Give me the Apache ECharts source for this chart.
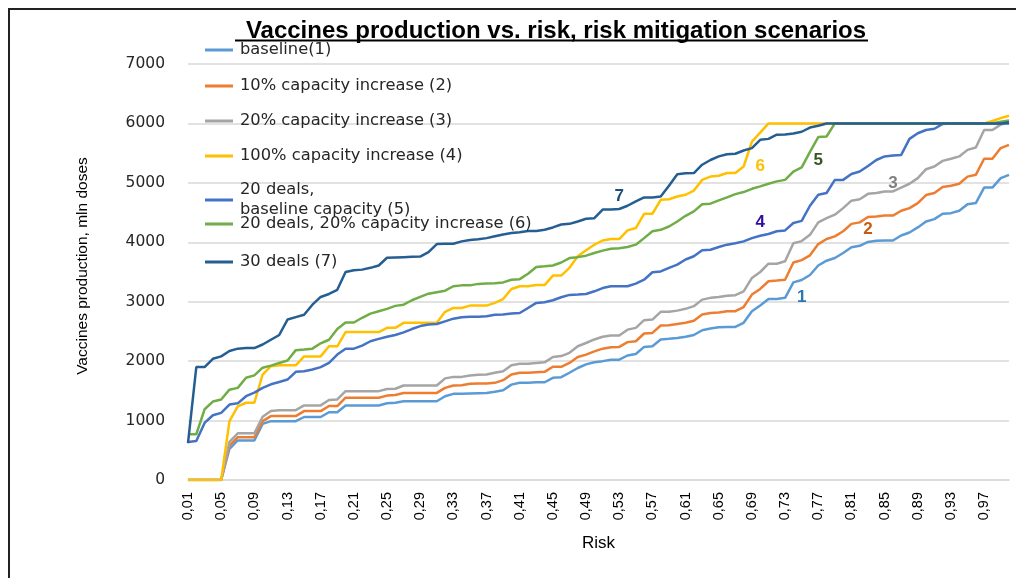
<!DOCTYPE html>
<html>
<head>
<meta charset="utf-8">
<script src="https://cdn.jsdelivr.net/npm/echarts@6/dist/echarts.min.js"></script>
<style>
html, body { margin: 0; padding: 0; background: #fff; }
#chart { width: 1016px; height: 578px; }
</style>
</head>
<body>
<div id="chart"></div>
<script>
// risk 0,01 .. 1,00
var categories = [];
for (var k = 1; k <= 100; k++) {
    categories.push((k / 100).toFixed(2).replace('.', ','));
}

var seriesNames = [
    'baseline(1)',
    '10% capacity increase (2)',
    '20% capacity increase (3)',
    '100% capacity increase (4)',
    '20 deals, baseline capacity (5)',
    '20 deals, 20% capacity increase (6)',
    '30 deals (7)'
];
var seriesColors = ['#5B9BD5', '#ED7D31', '#A5A5A5', '#FFC000', '#4472C4', '#70AD47', '#255E91'];

var baseline = [0, 0, 0, 0, 0, 525, 665, 665, 665, 945,
    990, 990, 990, 990, 1060, 1060, 1060, 1140, 1140, 1255,
    1255, 1255, 1255, 1255, 1290, 1300, 1325, 1325, 1325, 1325,
    1325, 1410, 1450, 1450, 1455, 1460, 1465, 1485, 1510, 1605,
    1635, 1635, 1645, 1645, 1720, 1730, 1805, 1885, 1945, 1980,
    2000, 2025, 2025, 2095, 2120, 2240, 2250, 2365, 2375, 2390,
    2410, 2440, 2520, 2550, 2570, 2575, 2575, 2645, 2840, 2935,
    3045, 3045, 3065, 3325, 3365, 3450, 3610, 3690, 3735, 3820,
    3915, 3940, 4005, 4025, 4030, 4030, 4115, 4165, 4250, 4350,
    4390, 4480, 4490, 4530, 4640, 4660, 4920, 4920, 5080, 5135];

var cap10 = [0, 0, 0, 0, 0, 580, 720, 720, 720, 990,
    1075, 1075, 1075, 1075, 1160, 1160, 1160, 1245, 1245, 1385,
    1385, 1385, 1385, 1385, 1420, 1430, 1465, 1465, 1465, 1465,
    1465, 1550, 1590, 1595, 1620, 1625, 1625, 1635, 1680, 1775,
    1805, 1805, 1815, 1820, 1905, 1905, 1970, 2070, 2110, 2165,
    2210, 2235, 2240, 2320, 2335, 2465, 2475, 2600, 2605, 2625,
    2645, 2680, 2785, 2810, 2820, 2840, 2840, 2910, 3120, 3215,
    3345, 3355, 3370, 3660, 3700, 3780, 3970, 4055, 4100, 4185,
    4310, 4335, 4425, 4435, 4450, 4450, 4530, 4575, 4660, 4795,
    4830, 4930, 4950, 4985, 5105, 5135, 5405, 5405, 5585, 5640];

var cap20 = [0, 0, 0, 0, 0, 640, 785, 785, 785, 1065,
    1160, 1175, 1175, 1175, 1255, 1255, 1255, 1345, 1355, 1495,
    1495, 1495, 1495, 1495, 1530, 1535, 1590, 1590, 1590, 1590,
    1590, 1710, 1735, 1735, 1760, 1770, 1775, 1805, 1830, 1930,
    1955, 1955, 1970, 1980, 2070, 2085, 2140, 2250, 2305, 2365,
    2410, 2430, 2430, 2530, 2560, 2690, 2700, 2830, 2830, 2850,
    2880, 2925, 3035, 3065, 3080, 3100, 3110, 3175, 3400, 3500,
    3640, 3640, 3680, 3985, 4020, 4125, 4335, 4405, 4465, 4575,
    4700, 4725, 4815, 4830, 4855, 4855, 4920, 4985, 5080, 5230,
    5275, 5370, 5405, 5445, 5555, 5595, 5890, 5890, 5980, 6010];

var cap100 = [0, 0, 0, 0, 0, 990, 1240, 1300, 1300, 1775,
    1915, 1930, 1930, 1930, 2080, 2080, 2080, 2250, 2250, 2490,
    2490, 2490, 2490, 2490, 2560, 2560, 2645, 2645, 2645, 2645,
    2645, 2830, 2895, 2895, 2935, 2935, 2935, 2980, 3045, 3215,
    3260, 3260, 3280, 3280, 3440, 3440, 3570, 3765, 3865, 3960,
    4030, 4055, 4055, 4200, 4240, 4480, 4480, 4715, 4725, 4770,
    4800, 4870, 5050, 5105, 5120, 5165, 5165, 5275, 5695, 5845,
    6000, 6000, 6000, 6000, 6000, 6000, 6000, 6000, 6000, 6000,
    6000, 6000, 6000, 6000, 6000, 6000, 6000, 6000, 6000, 6000,
    6000, 6000, 6000, 6000, 6000, 6000, 6000, 6040, 6090, 6130];

var deals20 = [640, 655, 960, 1090, 1130, 1270, 1290, 1410, 1470, 1550,
    1610, 1650, 1690, 1820, 1830, 1860, 1900, 1970, 2110, 2210,
    2210, 2260, 2335, 2375, 2410, 2440, 2485, 2540, 2590, 2615,
    2625, 2670, 2715, 2740, 2745, 2745, 2755, 2780, 2785, 2800,
    2810, 2895, 2980, 2990, 3025, 3075, 3115, 3120, 3130, 3175,
    3230, 3260, 3260, 3260, 3305, 3370, 3495, 3510, 3570, 3625,
    3710, 3765, 3865, 3875, 3920, 3960, 3985, 4015, 4070, 4110,
    4140, 4185, 4200, 4325, 4360, 4615, 4800, 4830, 5050, 5050,
    5150, 5190, 5285, 5385, 5445, 5460, 5470, 5740, 5835, 5890,
    5910, 5990, 6000, 6000, 6000, 6000, 6000, 6000, 6000, 6000];

var deals20cap20 = [770, 770, 1190, 1320, 1355, 1520, 1550, 1720, 1760, 1890,
    1925, 1970, 2010, 2185, 2195, 2210, 2300, 2360, 2540, 2650,
    2650, 2730, 2800, 2840, 2880, 2930, 2950, 3025, 3080, 3135,
    3160, 3185, 3260, 3275, 3275, 3300, 3305, 3310, 3325, 3370,
    3380, 3470, 3585, 3595, 3610, 3660, 3735, 3750, 3775, 3820,
    3860, 3890, 3900, 3920, 3960, 4070, 4185, 4210, 4265, 4350,
    4445, 4520, 4640, 4650, 4705, 4755, 4810, 4845, 4900, 4940,
    4985, 5025, 5050, 5190, 5260, 5520, 5770, 5780, 6000, 6000,
    6000, 6000, 6000, 6000, 6000, 6000, 6000, 6000, 6000, 6000,
    6000, 6000, 6000, 6000, 6000, 6000, 6000, 6000, 6030, 6050];

var deals30 = [620, 1900, 1900, 2040, 2080, 2170, 2210, 2220, 2220, 2280,
    2360, 2440, 2700, 2740, 2780, 2950, 3080, 3130, 3200, 3500,
    3530, 3540, 3570, 3610, 3740, 3745, 3750, 3755, 3760, 3835,
    3970, 3975, 3975, 4015, 4040, 4050, 4070, 4100, 4130, 4155,
    4170, 4190, 4190, 4210, 4250, 4300, 4310, 4350, 4395, 4405,
    4550, 4550, 4560, 4615, 4690, 4755, 4755, 4770, 4950, 5145,
    5160, 5165, 5305, 5385, 5445, 5480, 5490, 5545, 5585, 5725,
    5740, 5810, 5815, 5830, 5860, 5930, 5960, 6000, 6000, 6000,
    6000, 6000, 6000, 6000, 6000, 6000, 6000, 6000, 6000, 6000,
    6000, 6000, 6000, 6000, 6000, 6000, 6000, 6000, 6000, 6020];

var allValues = [baseline, cap10, cap20, cap100, deals20, deals20cap20, deals30];

// number labels written on the chart: [text, category index, value, colour]
var annotations = [
    ['1', 74, 3080, '#2E75B6'],
    ['2', 82, 4225, '#C55A11'],
    ['3', 85, 5000, '#808080'],
    ['4', 69, 4330, '#3010A0'],
    ['5', 76, 5385, '#375623'],
    ['6', 69, 5285, '#FFC000'],
    ['7', 52, 4780, '#1F4E79']
];

var legendCenters = [50, 86, 121, 156, 200, 224, 262];

var myChart = echarts.init(document.getElementById('chart'));

var legends = seriesNames.map(function (name, i) {
    var twoLines = name.indexOf('baseline capacity') >= 0;
    return {
        data: [name],
        orient: 'vertical',
        left: 205,
        top: legendCenters[i] - (twoLines ? 20 : 10),
        padding: 0,
        icon: 'rect',
        itemWidth: 28,
        itemHeight: 3,
        selectedMode: false,
        formatter: function (n) {
            return n.replace('20 deals, baseline', '20 deals,\nbaseline');
        },
        textStyle: {
            fontFamily: 'DejaVu Sans',
            fontSize: 16.3,
            lineHeight: 20,
            color: '#262626',
            padding: [0, 0, 0, 2]
        }
    };
});

var series = seriesNames.map(function (name, i) {
    return {
        name: name,
        type: 'line',
        data: allValues[i],
        showSymbol: false,
        symbol: 'none',
        animation: false,
        lineStyle: { width: 2.5, color: seriesColors[i] },
        itemStyle: { color: seriesColors[i] }
    };
});

series[6].markPoint = {
    symbol: 'circle',
    symbolSize: 1,
    itemStyle: { color: 'rgba(0,0,0,0)' },
    label: {
        show: true,
        position: 'inside',
        fontFamily: 'Liberation Sans',
        fontWeight: 'bold',
        fontSize: 17
    },
    data: annotations.map(function (a) {
        return {
            coord: [categories[a[1]], a[2]],
            value: a[0],
            label: { color: a[3], formatter: a[0] }
        };
    })
};

myChart.setOption({
    animation: false,
    title: {
        text: 'Vaccines production vs. risk, risk mitigation scenarios',
        left: 551,
        top: 14,
        textAlign: 'center',
        textStyle: {
            fontFamily: 'Liberation Sans',
            fontWeight: 'bold',
            fontSize: 24,
            color: '#000'
        }
    },
    legend: legends,
    grid: { left: 188, right: 7, top: 64, bottom: 98 },
    xAxis: {
        type: 'category',
        data: categories,
        boundaryGap: false,
        name: 'Risk',
        nameLocation: 'middle',
        nameGap: 55,
        nameTextStyle: { fontFamily: 'Liberation Sans', fontSize: 17, color: '#000' },
        axisLine: { lineStyle: { color: '#d9d9d9', width: 1.5 } },
        axisTick: { show: false },
        axisLabel: {
            interval: 3,
            rotate: 90,
            margin: 12,
            fontFamily: 'Liberation Sans',
            fontSize: 14.5,
            color: '#000'
        }
    },
    yAxis: {
        type: 'value',
        min: 0,
        max: 7000,
        interval: 1000,
        name: 'Vaccines production, mln doses',
        nameLocation: 'middle',
        nameGap: 97,
        nameRotate: 90,
        nameTextStyle: {
            fontFamily: 'Liberation Sans',
            fontSize: 15.5,
            color: '#000',
            padding: [0, 0, 0, 12]
        },
        axisLabel: {
            margin: 23,
            fontFamily: 'DejaVu Sans',
            fontSize: 15.5,
            color: '#262626',
            formatter: function (v) { return String(v); }
        },
        splitLine: { lineStyle: { color: '#d9d9d9', width: 1.5 } }
    },
    graphic: [
        {
            type: 'rect',
            shape: { x: 9, y: 9, width: 1100, height: 700 },
            style: { fill: 'none', stroke: '#222', lineWidth: 2 },
            silent: true
        },
        {
            type: 'line',
            shape: { x1: 235, y1: 40.5, x2: 868, y2: 40.5 },
            style: { stroke: '#000', lineWidth: 2 },
            silent: true
        }
    ],
    series: series
});
</script>
</body>
</html>
